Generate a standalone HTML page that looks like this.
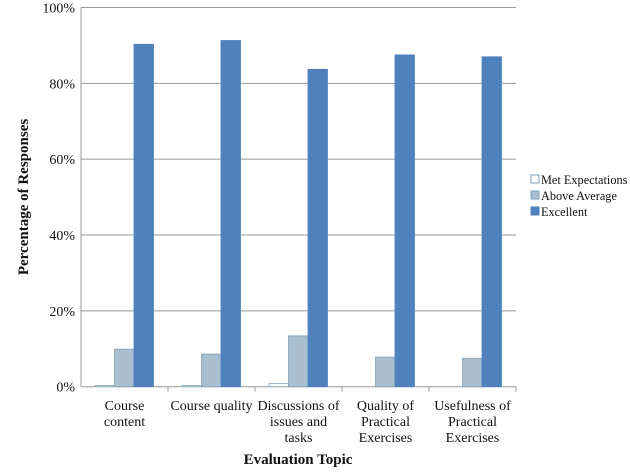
<!DOCTYPE html>
<html><head><style>
body{margin:0;background:#fff;}
svg text{font-family:"Liberation Serif",serif;fill:#111;}
</style></head><body>
<svg id="c" width="630" height="471"></svg>
<script>
const categories=[["Course","content"],["Course quality"],["Discussions of","issues and","tasks"],["Quality of","Practical","Exercises"],["Usefulness of","Practical","Exercises"]];
const seriesNames=["Met Expectations","Above Average","Excellent"];
const metExpectations=[0.3,0.3,0.8,0,0];
const aboveAverage=[9.9,8.6,13.4,7.8,7.5];
const excellent=[90.3,91.3,83.7,87.5,87.0];
const yTicks=[0,20,40,60,80,100];
const series=[metExpectations,aboveAverage,excellent];
const fills=["#ffffff","#a9bfcf","#4f81bd"];
const strokes=["#7f9fb5","#7f9fb5","#4f81bd"];
const NS="http://www.w3.org/2000/svg";
const svg=document.getElementById('c');
const X0=81,X1=516,Y0=386.7,Y1=7.5,GW=(X1-X0)/categories.length,BW=19.5;
const y=v=>Y0-(v/100)*(Y0-Y1);
function mk(t,a,p){const e=document.createElementNS(NS,t);for(const k in a)e.setAttribute(k,a[k]);(p||svg).appendChild(e);return e;}
yTicks.forEach(t=>{
 const g=mk('line',{x1:X0,x2:X1,y1:y(t),y2:y(t),stroke:'#999','stroke-width':1});
 
 
 const tx=mk('text',{x:X0-6,y:y(t)+5,'text-anchor':'end','font-size':14});tx.textContent=t+'%';
 
 
});
const ax=mk('line',{x1:X0,x2:X0,y1:Y1,y2:Y0,stroke:'#999'});


categories.forEach((c,i)=>{
 const gx=X0+i*GW;
 const tk=mk('line',{x1:gx+GW,x2:gx+GW,y1:Y0,y2:Y0+5,stroke:'#999'});
 
 
 series.forEach((s,j)=>{
  const v=s[i];
  if(v<=0) return;
  const r=mk('rect',{x:gx+14+j*BW,y:y(v),width:BW,height:Math.max(Y0-y(v),0.8),fill:fills[j],stroke:strokes[j],'stroke-width':0.8});
  
  
 });
 c.forEach((line,k)=>{
  const t=mk('text',{x:gx+GW/2,y:410+k*16,'text-anchor':'middle','font-size':14});t.textContent=line;
  
  
 });
});
const xt=mk('text',{x:298,y:464,'text-anchor':'middle','font-size':15,'font-weight':'bold'});xt.textContent='Evaluation Topic';


const yt=mk('text',{x:0,y:0,'text-anchor':'middle','font-size':15,'font-weight':'bold',transform:'translate(28,197) rotate(-90)'});yt.textContent='Percentage of Responses';


seriesNames.forEach((n,j)=>{
 const ly=183+j*16;
 const r=mk('rect',{x:531,y:ly-8,width:8,height:8,fill:fills[j],stroke:strokes[j]});
 
 
 const t=mk('text',{x:541,y:ly+1,'font-size':12.3});t.textContent=n;
 
 
});
</script>
</body></html>
